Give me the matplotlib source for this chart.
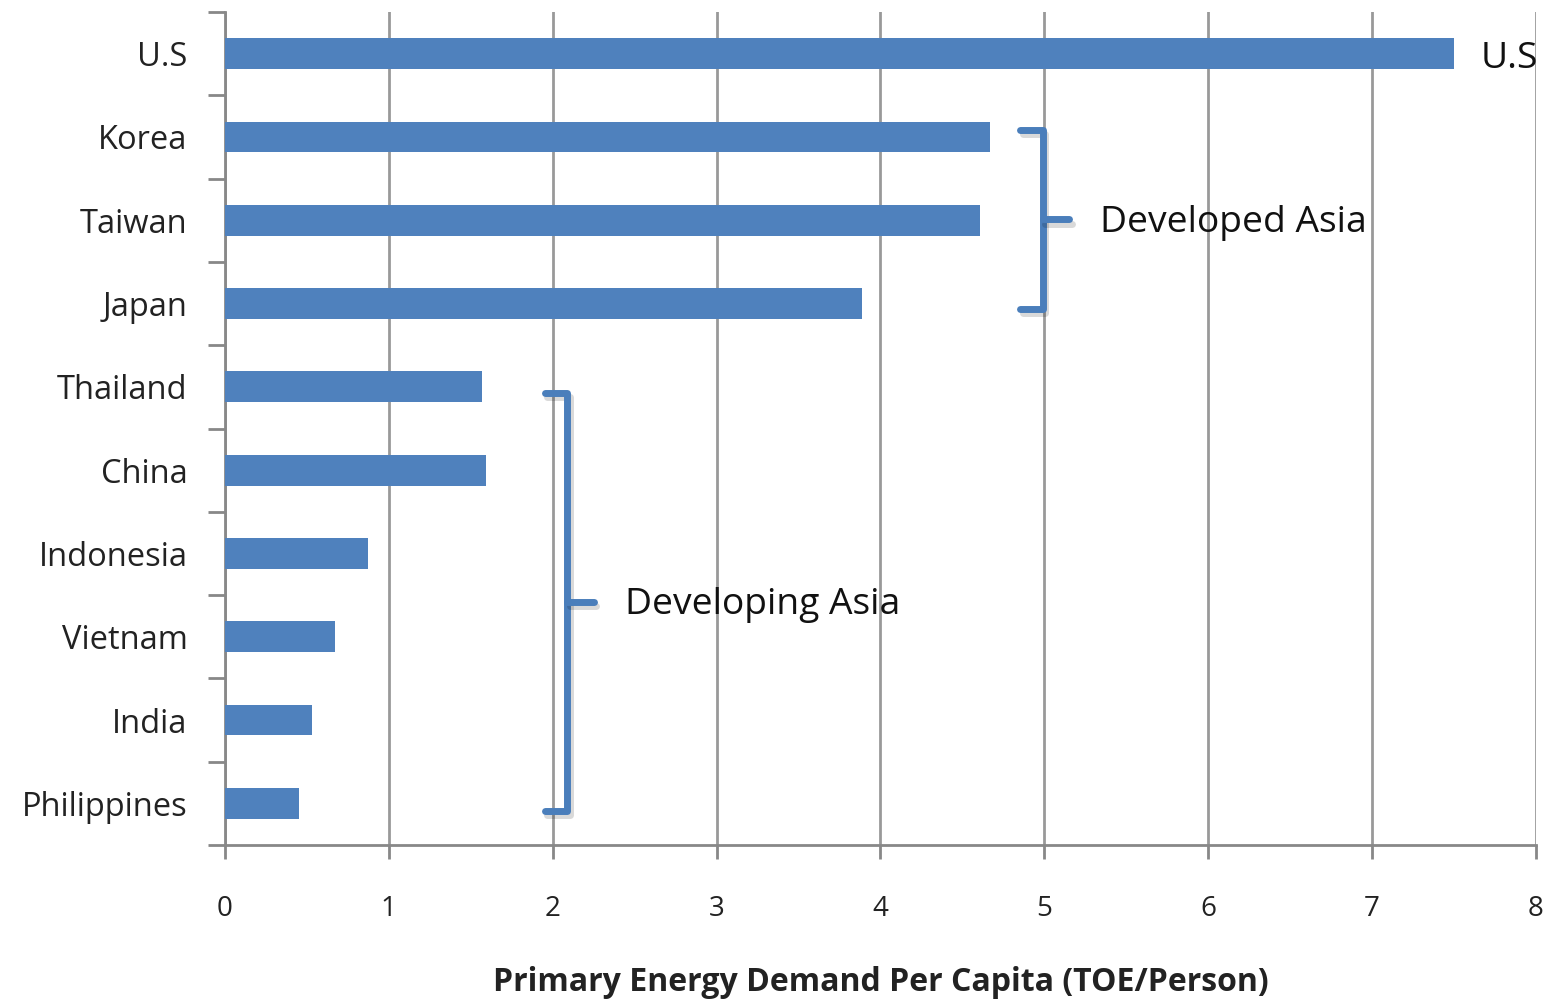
import matplotlib.pyplot as plt
import matplotlib.patheffects as pe
import numpy as np

# primary energy demand per capita, TOE per person
countries = ['U.S', 'Korea', 'Taiwan', 'Japan', 'Thailand', 'China',
             'Indonesia', 'Vietnam', 'India', 'Philippines']
demand = [7.50, 4.67, 4.61, 3.89, 1.57, 1.59, 0.87, 0.67, 0.53, 0.45]

# group brackets: label, top row edge, bottom row edge, x of bracket
groups = [('Developed Asia', 0.92, 3.06, 4.99),
          ('Developing Asia', 4.07, 9.09, 2.09)]

plt.rcParams['font.family'] = ['Open Sans', 'DejaVu Sans']
blue = '#4A7EBB'

fig = plt.figure(figsize=(15.46, 10), dpi=100)
ax = fig.add_axes([0.1455, 0.155, 0.848, 0.833])

y = np.arange(len(countries))
ax.barh(y, demand, height=0.37, color='#4F81BD', zorder=3)

ax.set_xlim(0, 8)
ax.set_ylim(len(countries) - 0.5, -0.5)

ax.set_xticks(range(9))
ax.set_xticklabels([str(i) for i in range(9)], fontsize=20, color='#222222')
ax.set_yticks(np.arange(-0.5, len(countries), 1))
ax.set_yticklabels([])
ax.set_yticks(y, minor=True)
ax.set_yticklabels(countries, minor=True, fontsize=23.5, color='#222222')
ax.tick_params(axis='y', which='minor', length=0, pad=27)
ax.tick_params(axis='y', which='major', length=12, width=2, color='#888888')
ax.tick_params(axis='x', length=10, width=2, color='#888888', pad=26)

ax.grid(axis='x', color='#999999', linewidth=2, zorder=0)
for s in ['top', 'right']:
    ax.spines[s].set_visible(False)
for s in ['left', 'bottom']:
    ax.spines[s].set_color('#888888')
    ax.spines[s].set_linewidth(2)

ax.set_xlabel('Primary Energy Demand Per Capita (TOE/Person)', fontsize=23,
              fontweight='bold', color='#222222', labelpad=31)

# brackets beside the grouped bars
shadow = [pe.SimpleLineShadow(offset=(2, -3), alpha=0.15), pe.Normal()]
for label, top, bot, bx in groups:
    mid = (top + bot) / 2
    ax.plot([bx - 0.14, bx, bx, bx - 0.14], [top, top, bot, bot],
            color=blue, lw=5, solid_joinstyle='round', solid_capstyle='round',
            zorder=4, clip_on=False, path_effects=shadow)
    ax.plot([bx, bx + 0.16], [mid, mid], color=blue, lw=5,
            solid_capstyle='round', zorder=4, path_effects=shadow)
    ax.text(bx + 0.35, mid + 0.04, label, fontsize=26.8, va='center',
            color='#111111', zorder=5)

ax.text(7.66, 0.07, 'U.S', fontsize=26.8, va='center', color='#111111',
        zorder=5, clip_on=False)

fig.savefig('out.png', dpi=100)
